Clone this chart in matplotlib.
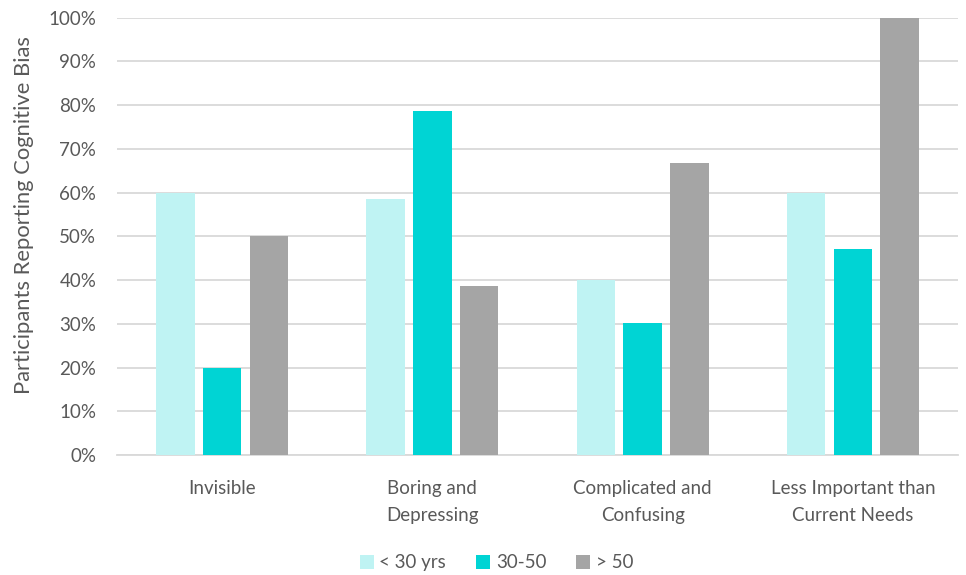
import matplotlib
matplotlib.use("Agg")
import matplotlib.pyplot as plt
import numpy as np
from matplotlib.ticker import PercentFormatter

categories = ["Invisible", "Boring and\nDepressing", "Complicated and\nConfusing", "Less Important than\nCurrent Needs"]
series_names = ["< 30 yrs", "30-50", "> 50"]
under_30 = [60.0, 58.5, 40.0, 60.0]
mid_30_50 = [20.0, 78.6, 30.2, 47.2]
over_50 = [50.0, 38.7, 66.7, 100.0]
colors = ["#BFF3F3", "#00D4D4", "#A5A5A5"]

plt.rcParams['font.family'] = ['Lato', 'DejaVu Sans']
text_color = "#595959"

fig = plt.figure(figsize=(9.66, 5.75), dpi=100)
ax = fig.add_axes([0.1211, 0.2087, 0.8706, 0.7605])

x = np.arange(len(categories))
w = 0.183
off = 0.222
for i, (vals, name, c) in enumerate(zip([under_30, mid_30_50, over_50], series_names, colors)):
    ax.bar(x + (i - 1) * off, vals, width=w, color=c, label=name, zorder=3)

ax.set_xlim(-0.5, 3.5)
ax.set_ylim(0, 100)
ax.set_yticks(np.arange(0, 101, 10))
ax.yaxis.set_major_formatter(PercentFormatter(decimals=0))
ax.grid(axis='y', color="#D9D9D9", linewidth=1.3, zorder=0)
for s in ["top", "right", "left"]:
    ax.spines[s].set_visible(False)
ax.spines["bottom"].set_color("#D9D9D9")
ax.spines["bottom"].set_linewidth(1.3)
ax.tick_params(axis='both', length=0, colors=text_color, labelsize=13.5)
ax.tick_params(axis='y', pad=15)
ax.tick_params(axis='x', pad=18)
ax.set_xticks(x)
ax.set_xticklabels(categories, linespacing=1.75)
ax.set_ylabel("Participants Reporting Cognitive Bias", color=text_color, fontsize=15.8, labelpad=8)
ax.yaxis.set_label_coords(-0.099, 0.549)

leg = fig.legend(loc="center", bbox_to_anchor=(0.514, 0.021), ncol=3, frameon=False,
                 fontsize=13.5, handlelength=0.75, handleheight=0.75, handletextpad=0.3,
                 columnspacing=1.6)
for t in leg.get_texts():
    t.set_color(text_color)

fig.savefig("out.png", dpi=100)
